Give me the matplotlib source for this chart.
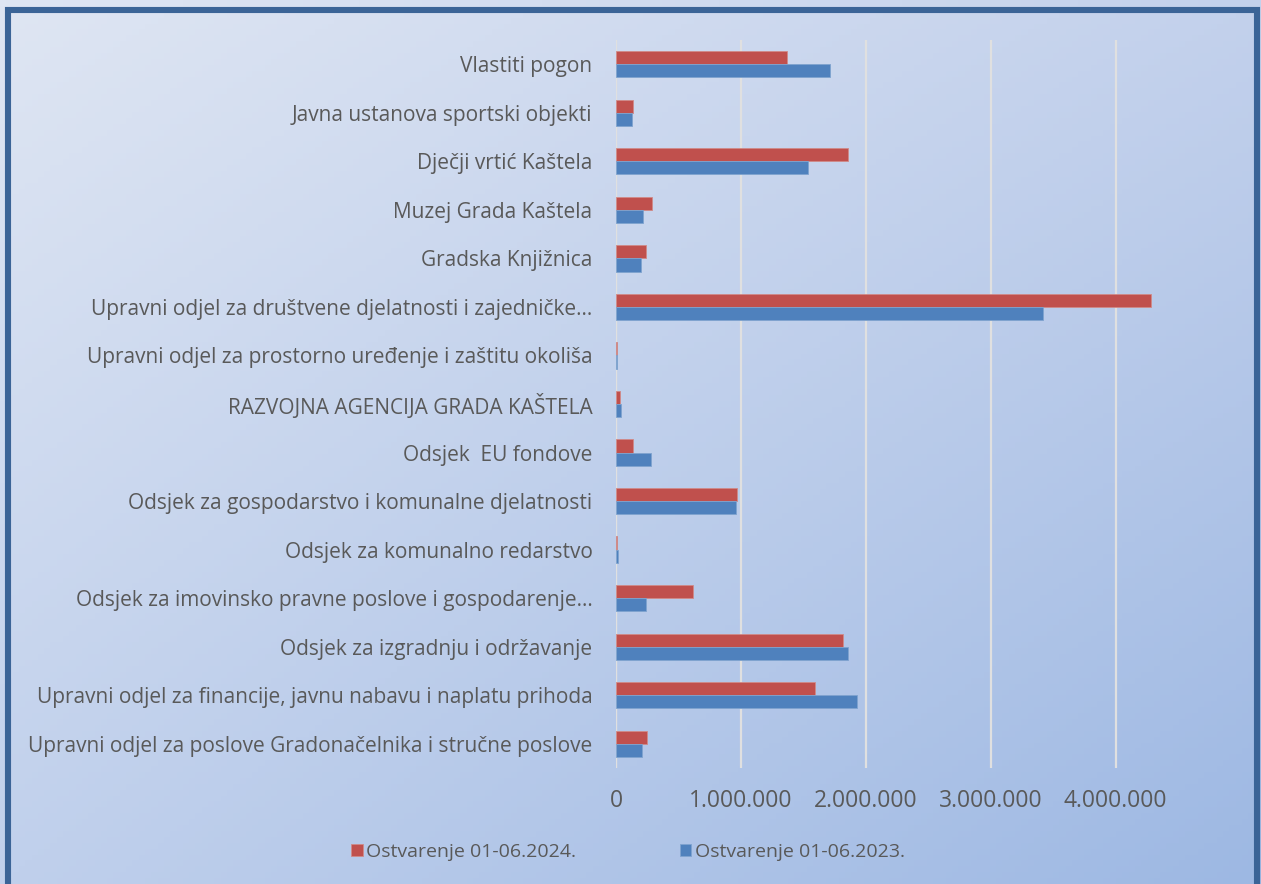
import numpy as np
import matplotlib.pyplot as plt
from matplotlib.patches import Rectangle

plt.rcParams['font.family'] = ['Open Sans', 'DejaVu Sans']

# kategorije odozdo prema gore (kao u barh)
categories = [
    'Upravni odjel za poslove Gradonačelnika i stručne poslove',
    'Upravni odjel za financije, javnu nabavu i naplatu prihoda',
    'Odsjek za izgradnju i održavanje',
    'Odsjek za imovinsko pravne poslove i gospodarenje…',
    'Odsjek za komunalno redarstvo',
    'Odsjek za gospodarstvo i komunalne djelatnosti',
    'Odsjek  EU fondove',
    'RAZVOJNA AGENCIJA GRADA KAŠTELA',
    'Upravni odjel za prostorno uređenje i zaštitu okoliša',
    'Upravni odjel za društvene djelatnosti i zajedničke…',
    'Gradska Knjižnica',
    'Muzej Grada Kaštela',
    'Dječji vrtić Kaštela',
    'Javna ustanova sportski objekti',
    'Vlastiti pogon',
]
ostv_2024 = [250000, 1590000, 1820000, 620000, 10000, 970000, 140000, 30000,
             5000, 4280000, 240000, 290000, 1860000, 140000, 1370000]
ostv_2023 = [210000, 1930000, 1860000, 240000, 15000, 960000, 280000, 40000,
             5000, 3420000, 200000, 220000, 1540000, 130000, 1710000]
series_names = ['Ostvarenje 01-06.2024.', 'Ostvarenje 01-06.2023.']
xticks = [0, 1000000, 2000000, 3000000, 4000000]
xtick_labels = ['0', '1.000.000', '2.000.000', '3.000.000', '4.000.000']

RED = '#c0504d'
BLUE = '#4f81bd'
TXT = '#595959'

fig = plt.figure(figsize=(12.61, 8.84), dpi=100)

# pozadina s gradijentom
bg = fig.add_axes([0, 0, 1, 1], zorder=-10)
tl = np.array([223, 230, 243]) / 255
tr = np.array([195, 209, 236]) / 255
bl = np.array([192, 208, 236]) / 255
br = np.array([157, 184, 227]) / 255
u = np.linspace(0, 1, 200)[None, :, None]
v = np.linspace(0, 1, 150)[:, None, None]
img = (1 - u) * (1 - v) * tl + u * (1 - v) * tr + (1 - u) * v * bl + u * v * br
bg.imshow(img, aspect='auto', extent=[0, 1, 0, 1], origin='upper')
bg.set_xlim(0, 1)
bg.set_ylim(0, 1)
bg.axis('off')

fig.patches.append(Rectangle((8 / 1261, -0.05), 1249 / 1261, 1 - 10 / 884 + 0.05,
                             transform=fig.transFigure, fill=False,
                             edgecolor='#3b6497', linewidth=4.4, zorder=5))

ax = fig.add_axes([616 / 1261, 1 - 768 / 884, (1178 - 616) / 1261, (768 - 40) / 884])
ax.patch.set_alpha(0)
y = np.arange(len(categories))
h = 0.27
ax.barh(y + h / 2, ostv_2024, height=h, color=RED, edgecolor='#d08a88', linewidth=0.6,
        label=series_names[0], zorder=3)
ax.barh(y - h / 2, ostv_2023, height=h, color=BLUE, edgecolor='#7fa3cf', linewidth=0.6,
        label=series_names[1], zorder=3)

ax.set_xlim(0, 4500000)
ax.set_ylim(-0.5, len(categories) - 0.5)
ax.set_xticks(xticks)
ax.set_xticklabels(xtick_labels)
ax.set_yticks(y)
ax.set_yticklabels(categories)
ax.tick_params(axis='both', length=0, colors=TXT)
ax.tick_params(axis='y', pad=17, labelsize=15)
ax.tick_params(axis='x', pad=15, labelsize=16.5)
ax.grid(axis='x', color='#e0e0e0', linewidth=1.6, zorder=1)
ax.axvline(0, color='#e0e0e0', linewidth=1.6, zorder=1)
for s in ax.spines.values():
    s.set_visible(False)

fig.legend(loc='center', bbox_to_anchor=(0.498, 1 - 852 / 884), ncol=2, frameon=False,
           fontsize=14, labelcolor=TXT, handlelength=0.6, handleheight=0.6,
           handletextpad=0.2, columnspacing=5.3)

fig.savefig('out.png', dpi=100)
